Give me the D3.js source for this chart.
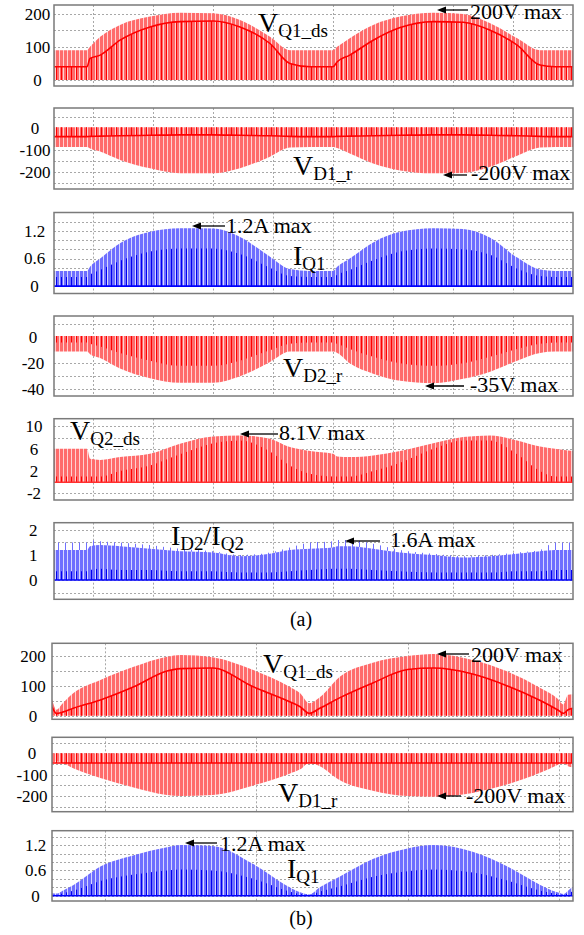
<!DOCTYPE html>
<html>
<head>
<meta charset="utf-8">
<script src="https://cdn.jsdelivr.net/npm/d3@7/dist/d3.min.js"></script>
<style>
  body { margin: 0; background: #fff; }
  svg { display: block; font-family: "Liberation Serif", "Times New Roman", serif; }
</style>
</head>
<body>
<script>
// ---- time samples (ms) ----
const tA = [3.5, 9.0, 9.5, 11.2, 14.5, 19.5, 24.5, 30.0, 34.5, 39.5, 42.8, 46.2, 50.0, 50.7, 52.8, 56.7, 61.2, 66.7, 71.7, 76.2, 80.7, 84.5, 87.0, 90.0];
const tB = [6.5, 6.8, 7.2, 7.9, 9.7, 11.9, 14.1, 15.0, 17.1, 19.8, 22.2, 22.9, 23.5, 24.2, 25.5, 27.7, 30.0, 31.7, 34.3, 36.6, 38.8, 39.9, 40.3, 40.6, 40.9];
const gridTA = [10, 20, 30, 40, 50, 60, 70, 80];
const gridTB = [10, 20, 30, 40];

// ---- (a) waveforms ----
const vq1dsHi  = [90, 90, 100, 130, 166, 191, 203, 201, 181, 130, 90, 90, 90, 100, 126, 166, 191, 203, 199, 171, 126, 90, 90, 90];
const vq1dsMid = [40, 40, 65, 75, 120, 160, 176, 178, 160, 110, 50, 40, 40, 55, 75, 120, 158, 176, 174, 150, 105, 45, 40, 40];

const vd1rLo  = [-85, -85, -92, -106, -144, -182, -205, -205, -182, -129, -88, -85, -85, -90, -115, -160, -192, -205, -203, -175, -125, -88, -85, -85];
const vd1rMid = [-38, -38, -37, -36, -34, -32, -30, -30, -32, -34, -37, -38, -38, -37, -36, -34, -32, -30, -30, -32, -34, -37, -38, -38];

const iq1Hi = [0.33, 0.33, 0.42, 0.6, 0.93, 1.18, 1.26, 1.25, 1.07, 0.64, 0.37, 0.33, 0.33, 0.42, 0.6, 0.95, 1.18, 1.26, 1.24, 1.05, 0.62, 0.36, 0.33, 0.33];
const iq1In = [0.2, 0.2, 0.25, 0.35, 0.55, 0.75, 0.82, 0.82, 0.7, 0.4, 0.22, 0.2, 0.2, 0.25, 0.35, 0.56, 0.75, 0.82, 0.8, 0.68, 0.38, 0.22, 0.2, 0.2];

const vd2rLo = [-11, -11, -13, -16, -24, -31.5, -35, -35, -30, -19, -11, -11, -11, -12, -20, -28, -33.5, -35.3, -32, -26.5, -18, -12, -11, -11];
const vd2rIn = [-4, -4, -5, -7, -12, -18, -22, -22, -18, -10, -5, -4, -4, -5, -9, -15, -20, -22, -20, -15, -9, -5, -4, -4];

const vq2dsHi = [6.0, 6.0, 4.2, 4.0, 4.5, 5.1, 6.9, 8.2, 8.4, 7.8, 6.3, 5.6, 5.1, 4.6, 4.5, 4.8, 5.6, 7.0, 8.1, 8.4, 7.5, 6.4, 6.0, 5.6];
const vq2dsIn = [1, 1, 1, 1, 2, 3, 5, 7, 7.5, 5.5, 3, 1.5, 1, 1, 1, 2, 3.5, 6, 7.5, 7.5, 5, 2, 1, 1];

const id2Hi = [1.2, 1.2, 1.35, 1.4, 1.35, 1.25, 1.15, 1.1, 0.95, 1.05, 1.2, 1.25, 1.3, 1.35, 1.35, 1.25, 1.1, 1.0, 0.9, 0.95, 1.05, 1.15, 1.2, 1.2];
const id2Pk = [1.5, 1.5, 1.6, 1.55, 1.5, 1.4, 1.25, 1.15, 1.0, 1.1, 1.3, 1.5, 1.55, 1.6, 1.6, 1.45, 1.2, 1.05, 0.95, 1.0, 1.1, 1.2, 1.5, 1.5];
const id2In = [0.35, 0.35, 0.4, 0.45, 0.4, 0.4, 0.35, 0.35, 0.3, 0.3, 0.35, 0.4, 0.45, 0.45, 0.45, 0.4, 0.35, 0.3, 0.3, 0.3, 0.35, 0.35, 0.4, 0.4];

// ---- (b) waveforms ----
const vq1dsBHi  = [55, 20, 41, 75, 120, 164, 198, 204, 196, 153, 97, 75, 42, 62, 130, 178, 200, 207, 187, 148, 92, 58, 38, 70, 72];
const vq1dsBMid = [30, 8, 12, 25, 53, 97, 150, 158, 160, 97, 47, 30, 8, 25, 60, 110, 155, 160, 140, 100, 50, 20, 8, 20, 25];

const vd1rBLo  = [-45, -38, -45, -70, -115, -160, -195, -200, -195, -150, -95, -75, -45, -60, -125, -175, -200, -203, -185, -145, -90, -55, -40, -60, -65];
const vd1rBMid = [-45, -45, -45, -45, -45, -45, -45, -45, -45, -45, -45, -45, -45, -45, -45, -45, -45, -45, -45, -45, -45, -45, -45, -45, -45];

const iq1BHi = [0.06, 0.05, 0.12, 0.25, 0.69, 0.96, 1.15, 1.2, 1.18, 0.75, 0.2, 0.08, 0.03, 0.2, 0.45, 0.87, 1.12, 1.2, 1.04, 0.69, 0.25, 0.08, 0.04, 0.12, 0.21];
const iq1BIn = [0.03, 0.02, 0.06, 0.12, 0.35, 0.5, 0.6, 0.62, 0.6, 0.4, 0.1, 0.04, 0.02, 0.1, 0.22, 0.45, 0.58, 0.62, 0.55, 0.36, 0.12, 0.04, 0.02, 0.06, 0.1];

const svg = d3.select('body').append('svg').attr('width', 584).attr('height', 935);
const defs = svg.append('defs');

// vertical switching stripes
function stripes(id, w, bands) {
    const p = defs.append('pattern').attr('id', id)
        .attr('patternUnits', 'userSpaceOnUse').attr('width', w).attr('height', 10);
    bands.forEach(b => p.append('rect').attr('x', b[0]).attr('y', 0)
        .attr('width', b[1]).attr('height', 10).attr('fill', b[2]));
}
stripes('redLight', 4, [[0, 3, '#ff6b6b'], [3, 1, '#ffd2d2']]);
stripes('redDark', 5, [[1, 1, '#ff0000']]);
stripes('blueLight', 4, [[0, 3, '#6e6eff'], [3, 1, '#d6d6ff']]);
stripes('blueDark', 5, [[1, 1, '#0000ee']]);
stripes('blueSpike', 7, [[2, 1, '#7070ff']]);

const colors = {
    red: { light: 'url(#redLight)', dark: 'url(#redDark)', line: '#ff0000' },
    blue: { light: 'url(#blueLight)', dark: 'url(#blueDark)', line: '#0000ff', spike: 'url(#blueSpike)' }
};

const panels = [
    { id: 1, left: 54, right: 573, top: 5, bottom: 86, xDom: [3.5, 90], xGrid: gridTA, yDom: [-18, 226],
      yGrid: [0, 50, 100, 150, 200], yTicks: [0, 100, 200], labelX: 37.5, color: 'red',
      t: tA, lo: 0, hi: vq1dsHi, mid: vq1dsMid, inner: vq1dsMid,
      label: { x: 258, y: 32, parts: [['V', 0], ['Q1_ds', 1]] },
      note: { tip: [437, 10], tail: 468, text: '200V max', tx: 470, ty: 19 } },
    { id: 2, left: 54, right: 573, top: 108, bottom: 189, xDom: [3.5, 90], xGrid: gridTA, yDom: [-276, 92],
      yGrid: [50, 0, -50, -100, -150, -200, -250], yTicks: [0, -100, -200], labelX: 35, color: 'red',
      t: tA, lo: vd1rLo, hi: 5, mid: vd1rMid, inner: vd1rMid, innerNeg: true,
      label: { x: 293, y: 175, parts: [['V', 0], ['D1_r', 1]] },
      note: { tip: [443, 175], tail: 467, text: '-200V max', tx: 471, ty: 180 } },
    { id: 3, left: 54, right: 573, top: 212.5, bottom: 293.5, xDom: [3.5, 90], xGrid: gridTA, yDom: [-0.16, 1.6],
      yGrid: [0, 0.2, 0.4, 0.6, 0.8, 1.0, 1.2, 1.4], yTicks: [0, 0.6, 1.2], labelX: 34.5, color: 'blue',
      t: tA, lo: 0, hi: iq1Hi, inner: iq1In, base: true,
      label: { x: 293, y: 265, parts: [['I', 0], ['Q1', 1]] },
      note: { tip: [192, 226], tail: 225, text: '1.2A max', tx: 226, ty: 233 } },
    { id: 4, left: 54, right: 573, top: 316, bottom: 396, xDom: [3.5, 90], xGrid: gridTA, yDom: [-45.2, 16.4],
      yGrid: [10, 0, -10, -20, -30, -40], yTicks: [0, -20, -40], labelX: 33, color: 'red',
      t: tA, lo: vd2rLo, hi: 1, inner: vd2rIn, innerNeg: true,
      label: { x: 283, y: 377, parts: [['V', 0], ['D2_r', 1]] },
      note: { tip: [425, 386], tail: 464, text: '-35V max', tx: 470, ty: 392 } },
    { id: 5, left: 54, right: 573, top: 418.7, bottom: 500, xDom: [3.5, 90], xGrid: gridTA, yDom: [-3.2, 11.4],
      yGrid: [-2, 0, 2, 4, 6, 8, 10], yTicks: [-2, 2, 6, 10], labelX: 34, color: 'red',
      t: tA, lo: 0, hi: vq2dsHi, inner: vq2dsIn, base: true,
      label: { x: 70, y: 440, parts: [['V', 0], ['Q2_ds', 1]] },
      note: { tip: [240, 434], tail: 278, text: '8.1V max', tx: 279, ty: 440 } },
    { id: 6, left: 54, right: 573, top: 522.7, bottom: 599.3, xDom: [3.5, 90], xGrid: gridTA, yDom: [-0.77, 2.29],
      yGrid: [-0.5, 0, 0.5, 1, 1.5, 2], yTicks: [0, 1, 2], labelX: 33.3, color: 'blue',
      t: tA, lo: 0, hi: id2Hi, peak: id2Pk, inner: id2In, base: true,
      label: { x: 171, y: 545, parts: [['I', 0], ['D2', 1], ['/I', 0], ['Q2', 1]] },
      note: { tip: [345, 541], tail: 380, text: '1.6A max', tx: 390, ty: 547 } },
    { id: 7, left: 52, right: 573, top: 643.3, bottom: 719.3, xDom: [6.5, 40.93], xGrid: gridTB, yDom: [-12, 243],
      yGrid: [0, 50, 100, 150, 200], yTicks: [0, 100, 200], labelX: 33, color: 'red',
      t: tB, lo: 0, hi: vq1dsBHi, mid: vq1dsBMid, inner: vq1dsBMid,
      label: { x: 263, y: 673, parts: [['V', 0], ['Q1_ds', 1]] },
      note: { tip: [437, 654], tail: 469, text: '200V max', tx: 471, ty: 662 } },
    { id: 8, left: 52, right: 573, top: 737.3, bottom: 811.7, xDom: [6.5, 40.93], xGrid: gridTB, yDom: [-273, 75],
      yGrid: [50, 0, -50, -100, -150, -200, -250], yTicks: [0, -100, -200], labelX: 32, color: 'red',
      t: tB, lo: vd1rBLo, hi: 0, mid: vd1rBMid, inner: vd1rBMid, innerNeg: true,
      label: { x: 278, y: 802, parts: [['V', 0], ['D1_r', 1]] },
      note: { tip: [437, 796], tail: 461, text: '-200V max', tx: 466, ty: 803 } },
    { id: 9, left: 52, right: 573, top: 830.7, bottom: 901, xDom: [6.5, 40.93], xGrid: gridTB, yDom: [-0.125, 1.54],
      yGrid: [0, 0.2, 0.4, 0.6, 0.8, 1.0, 1.2, 1.4], yTicks: [0, 0.6, 1.2], labelX: 35.5, color: 'blue',
      t: tB, lo: 0, hi: iq1BHi, inner: iq1BIn, base: true,
      label: { x: 287, y: 878, parts: [['I', 0], ['Q1', 1]] },
      note: { tip: [185, 843], tail: 217, text: '1.2A max', tx: 220, ty: 851 } }
];

const val = (v, i) => Array.isArray(v) ? v[i] : v;

function drawPanel(p) {
    const x = d3.scaleLinear().domain(p.xDom).range([p.left, p.right]);
    const y = d3.scaleLinear().domain(p.yDom).range([p.bottom, p.top]);
    const c = colors[p.color];
    const g = svg.append('g');

    defs.append('clipPath').attr('id', 'clip' + p.id)
        .append('rect').attr('x', p.left).attr('y', p.top)
        .attr('width', p.right - p.left).attr('height', p.bottom - p.top);

    // dotted grid
    const grid = g.append('g').attr('stroke', '#a8a8a8').attr('stroke-width', 1).attr('stroke-dasharray', '2,2');
    grid.selectAll('line.gy').data(p.yGrid).join('line').attr('class', 'gy')
        .attr('x1', p.left).attr('x2', p.right)
        .attr('y1', d => Math.round(y(d)) + 0.5).attr('y2', d => Math.round(y(d)) + 0.5);
    grid.selectAll('line.gx').data(p.xGrid).join('line').attr('class', 'gx')
        .attr('y1', p.top).attr('y2', p.bottom)
        .attr('x1', d => Math.round(x(d)) + 0.5).attr('x2', d => Math.round(x(d)) + 0.5);

    const rows = p.t.map((t, i) => ({
        t, lo: val(p.lo, i), hi: val(p.hi, i),
        pk: p.peak ? p.peak[i] : null,
        inn: p.inner ? p.inner[i] : null,
        mid: p.mid ? p.mid[i] : null
    }));

    const plot = g.append('g').attr('clip-path', `url(#clip${p.id})`);
    const curve = d3.curveMonotoneX;

    if (p.peak) {
        plot.append('path').datum(rows).attr('fill', c.spike)
            .attr('d', d3.area().x(d => x(d.t)).y0(d => y(d.lo)).y1(d => y(d.pk)).curve(curve));
    }
    plot.append('path').datum(rows).attr('fill', c.light)
        .attr('d', d3.area().x(d => x(d.t)).y0(d => y(d.lo)).y1(d => y(d.hi)).curve(curve));
    if (p.inner) {
        const a = p.innerNeg
            ? d3.area().x(d => x(d.t)).y0(d => y(d.hi)).y1(d => y(d.inn))
            : d3.area().x(d => x(d.t)).y0(d => y(d.lo)).y1(d => y(d.inn));
        plot.append('path').datum(rows).attr('fill', c.dark).attr('d', a.curve(curve));
    }
    if (p.mid) {
        plot.append('path').datum(rows).attr('fill', 'none').attr('stroke', c.line).attr('stroke-width', 1.6)
            .attr('d', d3.line().x(d => x(d.t)).y(d => y(d.mid)).curve(curve));
    }
    if (p.base) {
        plot.append('line').attr('x1', p.left).attr('x2', p.right)
            .attr('y1', y(0)).attr('y2', y(0))
            .attr('stroke', p.color === 'blue' ? '#0000ff' : '#ff3030').attr('stroke-width', 1.6);
    }

    // frame
    g.append('rect').attr('x', p.left).attr('y', p.top)
        .attr('width', p.right - p.left).attr('height', p.bottom - p.top)
        .attr('fill', 'none').attr('stroke', '#7a7a7a').attr('stroke-width', 1.5);

    // tick labels
    const axis = g.append('g').attr('transform', `translate(${p.labelX},0)`)
        .call(d3.axisLeft(y).tickValues(p.yTicks).tickSize(0).tickPadding(0).tickFormat(d => String(d)));
    axis.select('.domain').remove();
    axis.selectAll('text').attr('text-anchor', 'middle').attr('x', 0)
        .attr('font-family', '"Liberation Serif", "Times New Roman", serif')
        .attr('font-size', 17).attr('fill', '#000');

    // signal name
    const lab = g.append('text').attr('x', p.label.x).attr('y', p.label.y).attr('fill', '#000');
    let shifted = false;
    p.label.parts.forEach(([txt, sub]) => {
        const ts = lab.append('tspan').text(txt).attr('font-size', sub ? 19 : 28);
        if (sub && !shifted) { ts.attr('dy', 5); shifted = true; }
        else if (!sub && shifted) { ts.attr('dy', -5); shifted = false; }
    });

    // max annotation with arrow
    const n = p.note;
    g.append('line').attr('x1', n.tip[0] + 6).attr('x2', n.tail)
        .attr('y1', n.tip[1]).attr('y2', n.tip[1]).attr('stroke', '#000').attr('stroke-width', 1.3);
    g.append('path').attr('fill', '#000')
        .attr('d', `M${n.tip[0]},${n.tip[1]} l9,-3.5 l0,7 z`);
    g.append('text').attr('x', n.tx).attr('y', n.ty).attr('font-size', 22).attr('fill', '#000').text(n.text);
}

panels.forEach(drawPanel);

svg.append('text').attr('x', 301).attr('y', 626).attr('text-anchor', 'middle').attr('font-size', 20).text('(a)');
svg.append('text').attr('x', 301).attr('y', 925).attr('text-anchor', 'middle').attr('font-size', 20).text('(b)');
</script>
</body>
</html>
